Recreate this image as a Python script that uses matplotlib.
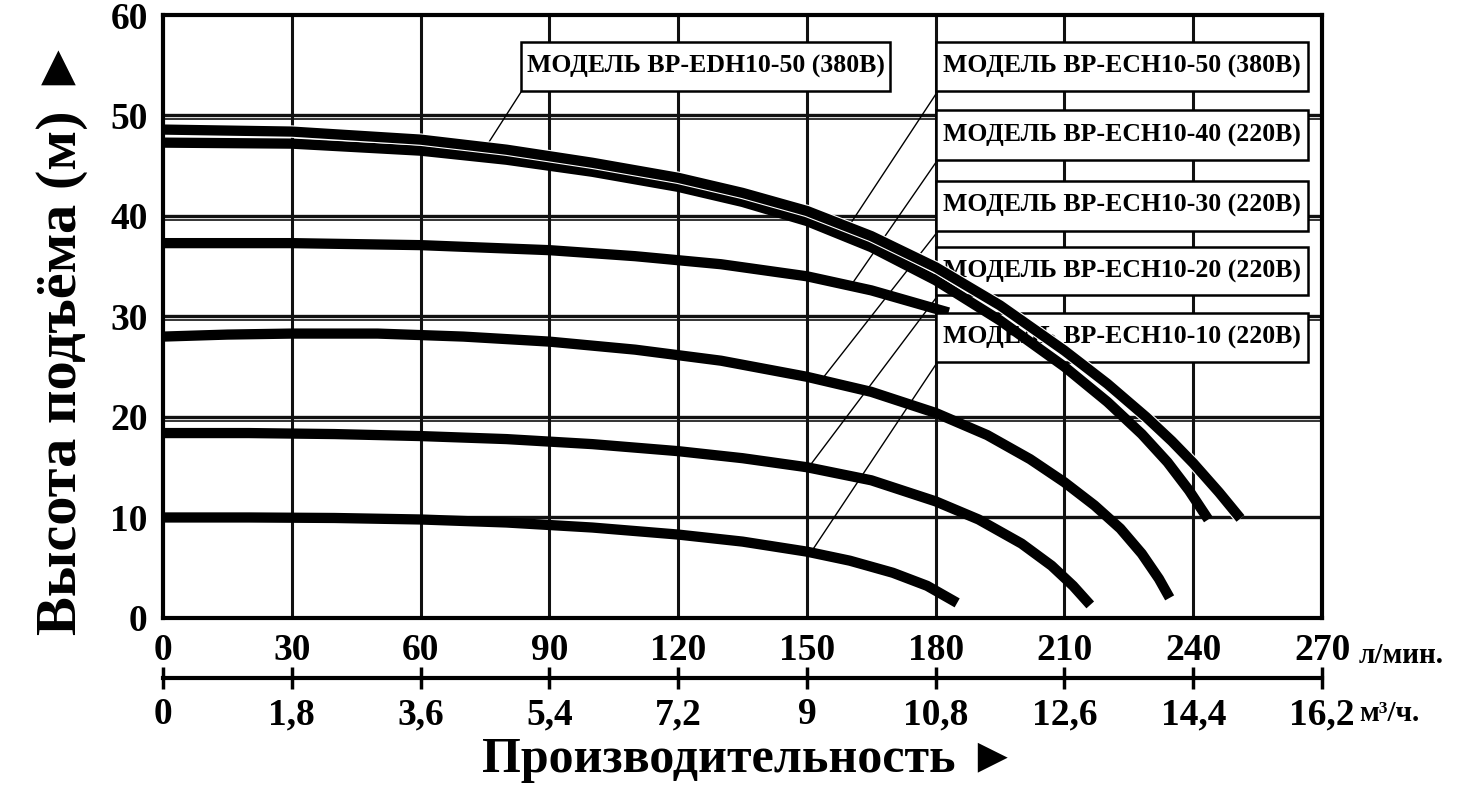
import matplotlib
matplotlib.use("Agg")
import matplotlib.pyplot as plt
from matplotlib.patches import Rectangle
from matplotlib import patheffects
from matplotlib.transforms import offset_copy

# pump curves: flow (l/min) -> head (m)
flow_10_10 = [0, 20, 40, 60, 80, 100, 120, 135, 150, 160, 170, 178, 185]
head_10_10 = [10.0, 10.0, 9.95, 9.8, 9.5, 9.0, 8.3, 7.6, 6.6, 5.7, 4.5, 3.2, 1.5]

flow_10_20 = [0, 20, 40, 60, 80, 100, 120, 135, 150, 165, 180, 190, 200, 207, 212, 216]
head_10_20 = [18.4, 18.4, 18.3, 18.1, 17.8, 17.3, 16.6, 15.9, 15.0, 13.7, 11.6, 9.8, 7.4, 5.2, 3.2, 1.3]

flow_10_30 = [0, 15, 30, 50, 70, 90, 110, 130, 150, 165, 180, 192, 202, 210, 217, 223, 228, 232, 234.5]
head_10_30 = [28.0, 28.2, 28.3, 28.3, 28.0, 27.5, 26.7, 25.6, 24.0, 22.5, 20.4, 18.2, 15.8, 13.5,
              11.2, 8.9, 6.4, 3.9, 2.0]

flow_10_40 = [0, 30, 60, 90, 110, 130, 150, 165, 183]
head_10_40 = [37.3, 37.3, 37.1, 36.6, 36.0, 35.2, 34.0, 32.6, 30.4]

flow_50_a = [0, 30, 60, 80, 100, 120, 135, 150, 165, 180, 195, 210, 220, 229, 235, 240, 246, 251]
head_50_a = [48.6, 48.4, 47.6, 46.6, 45.3, 43.8, 42.3, 40.5, 38.0, 34.9, 31.1, 26.6, 23.3, 20.0,
             17.6, 15.4, 12.5, 9.9]

flow_50_b = [0, 30, 60, 80, 100, 120, 135, 150, 165, 180, 195, 210, 220, 228, 234, 239, 243.5]
head_50_b = [47.3, 47.2, 46.5, 45.6, 44.4, 42.9, 41.4, 39.5, 36.9, 33.6, 29.6, 25.0, 21.5, 18.3,
             15.5, 12.7, 9.8]

flow_ticks = [0, 30, 60, 90, 120, 150, 180, 210, 240, 270]
flow_labels = ["0", "30", "60", "90", "120", "150", "180", "210", "240", "270"]
m3h_ticks = [0, 1.8, 3.6, 5.4, 7.2, 9, 10.8, 12.6, 14.4, 16.2]
m3h_labels = ["0", "1,8", "3,6", "5,4", "7,2", "9", "10,8", "12,6", "14,4", "16,2"]
head_ticks = [0, 10, 20, 30, 40, 50, 60]

ech_labels = ["МОДЕЛЬ BP-ECH10-50 (380В)", "МОДЕЛЬ BP-ECH10-40 (220В)",
              "МОДЕЛЬ BP-ECH10-30 (220В)", "МОДЕЛЬ BP-ECH10-20 (220В)",
              "МОДЕЛЬ BP-ECH10-10 (220В)"]
edh_label = "МОДЕЛЬ BP-EDH10-50 (380В)"

plt.rcParams['font.family'] = ['Liberation Serif', 'DejaVu Serif']
plt.rcParams['font.weight'] = 'bold'

fig = plt.figure(figsize=(14.67, 7.98), dpi=100)
ax = fig.add_axes([0.1111, 0.2256, 0.7901, 0.7556])
ax.set_xlim(0, 270)
ax.set_ylim(0, 60)

# grid (the upper horizontals look doubled in the original)
for x in flow_ticks[1:-1]:
    ax.axvline(x, color='#111111', lw=2.2, zorder=1)
low = offset_copy(ax.get_yaxis_transform(), fig=fig, y=-4, units='dots')
for y in head_ticks[1:-1]:
    ax.axhline(y, color='#111111', lw=2.4, zorder=1)
    if y >= 20:
        ax.plot([0, 1], [y, y], color='#111111', lw=1.2, zorder=1, transform=low)

ax.set_xticks(flow_ticks, flow_labels)
ax.set_yticks(head_ticks)
ax.tick_params(length=0, labelsize=27)
ax.tick_params(axis='x', pad=11)
ax.tick_params(axis='y', pad=11)
for s in ax.spines.values():
    s.set_linewidth(3)
    s.set_zorder(6)

curve_kw = dict(color='black', lw=7.4, solid_capstyle='butt', solid_joinstyle='round')
ax.plot(flow_10_10, head_10_10, zorder=2, **curve_kw)
ax.plot(flow_10_20, head_10_20, zorder=2, **curve_kw)
ax.plot(flow_10_30, head_10_30, zorder=2, **curve_kw)
ax.plot(flow_10_40, head_10_40, zorder=2, **curve_kw)
ax.plot(flow_50_b, head_50_b, zorder=4, **curve_kw)
ax.plot(flow_50_a, head_50_a, zorder=4.1,
        path_effects=[patheffects.Stroke(linewidth=9.0, foreground='white'), patheffects.Normal()],
        **curve_kw)

# label boxes with leaders
box_x0, box_x1 = 180, 266.7
box_rows = [(52.4, 57.3), (45.6, 50.5), (38.5, 43.5), (32.1, 36.9), (25.5, 30.3)]
leader_to = [(160.4, 39.4), (160.6, 33.3), (153.4, 23.7), (150.5, 15.05), (151.2, 6.7)]
for name, (y0, y1), (tx, ty) in zip(ech_labels, box_rows, leader_to):
    ax.add_patch(Rectangle((box_x0, y0), box_x1 - box_x0, y1 - y0, fc='white',
                           ec='black', lw=1.8, zorder=3))
    ax.text((box_x0 + box_x1) / 2, (y0 + y1) / 2, name, ha='center', va='center',
            fontsize=18.5, zorder=3.1)
    ax.plot([box_x0, tx], [y0 - 0.3, ty], color='black', lw=1.0, zorder=2.5)

ax.add_patch(Rectangle((83.5, 52.4), 85.8, 4.9, fc='white', ec='black', lw=1.8, zorder=3))
ax.text(83.5 + 85.8 / 2, 52.4 + 4.9 / 2, edh_label, ha='center', va='center',
        fontsize=18.5, zorder=3.1)
ax.plot([83.5, 74.5], [52.4, 46.4], color='black', lw=1.0, zorder=2.5)

# second flow scale in m3/h
sec = ax.secondary_xaxis(-0.0995, functions=(lambda q: q * 6 / 100, lambda v: v * 100 / 6))
sec.set_xticks(m3h_ticks, m3h_labels)
sec.spines['bottom'].set_linewidth(3)
sec.tick_params(direction='inout', length=16, width=2.5, labelsize=27, pad=6)

fig.text(0.9263, 0.179, "л/мин.", ha='left', va='center', fontsize=21)
fig.text(0.9263, 0.1065, "м³/ч.", ha='left', va='center', fontsize=21)
fig.text(0.042, 0.578, "Высота подъёма (м) ►", rotation=90, ha='center', va='center',
         fontsize=42)
fig.text(0.511, 0.0476, "Производительность ►", ha='center', va='center', fontsize=36)

fig.savefig("out.png", dpi=100)
